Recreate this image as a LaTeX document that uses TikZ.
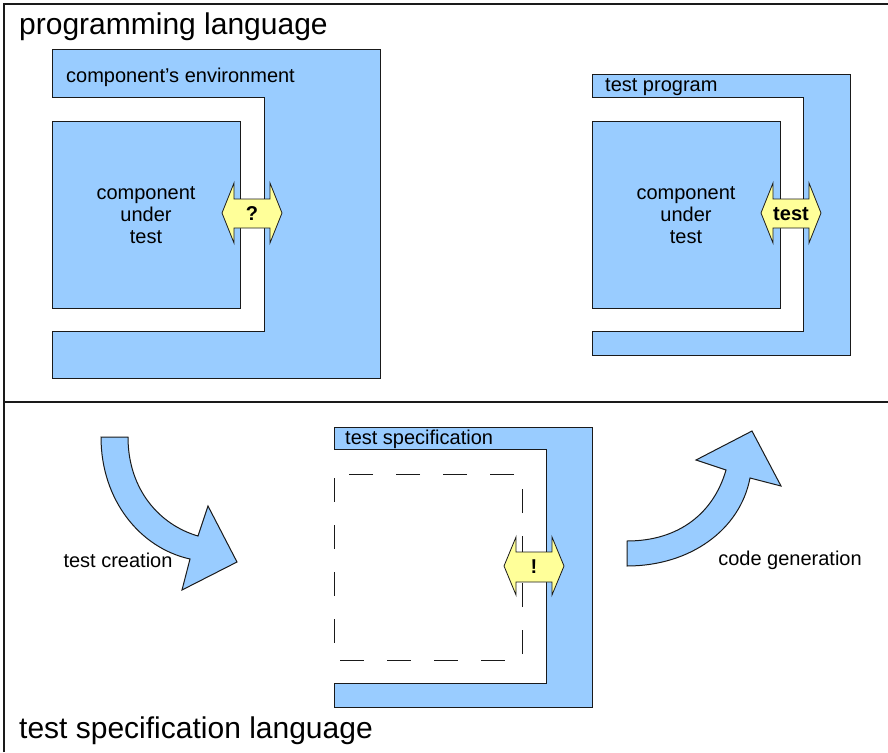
\documentclass[tikz,border=0pt]{standalone}
\usepackage{fontspec}
\setmainfont{Liberation Sans}
\usepackage{xcolor}
\definecolor{boxblue}{HTML}{99CCFF}
\definecolor{arrowyellow}{HTML}{FFFF99}
\definecolor{edge}{HTML}{1A1A1A}
\tikzset{
  part/.style={draw=edge, line width=1pt, fill=boxblue},
  xarrow/.style={draw=edge, line width=0.8pt, fill=arrowyellow},
  label/.style={inner sep=0pt, font=\fontsize{20}{22}\selectfont},
  big/.style={inner sep=0pt, font=\fontsize{30}{34}\selectfont}
}

\begin{document}
\begin{tikzpicture}[x=1pt, y=-1pt]
        \useasboundingbox (0,0) rectangle (888,752);
        % frame
        \draw[line width=1.5pt, edge] (4,752) -- (4,4) -- (888,4);
        \draw[line width=1.5pt, edge] (4,402) -- (888,402);
        \node[big, anchor=west] (pl) at (19,27) {programming language};
        \node[big, anchor=west] (tsl) at (19,731) {test specification language};

        % component and its environment
        \draw[part] (52,50) -- (380,50) -- (380,378) -- (52,378) -- (52,331) -- (264,331) -- (264,97) -- (52,97) -- cycle;
        \node[label, anchor=west] (env) at (66,77) {component's environment};
        \draw[part] (52,121) rectangle (240,308);
        \node[label, align=center] (cut) at (146,215) {component\\under\\test};
        \draw[xarrow, shift={(252,213)}] (-30,0) -- (-18,-30) -- (-18,-14) -- (18,-14) -- (18,-30) -- (30,0) -- (18,30) -- (18,15) -- (-18,15) -- (-18,30) -- cycle;
        \node[label, font=\fontsize{20}{22}\selectfont\bfseries] (q) at (252,214) {?};

        % component and test program
        \draw[part] (592,74) -- (850,74) -- (850,355) -- (592,355) -- (592,331) -- (803,331) -- (803,97) -- (592,97) -- cycle;
        \node[label, anchor=west] (tp) at (605,87) {test program};
        \draw[part] (592,121) rectangle (780,308);
        \node[label, align=center] (cut2) at (686,215) {component\\under\\test};
        \draw[xarrow, shift={(791,213)}] (-30,0) -- (-18,-30) -- (-18,-14) -- (18,-14) -- (18,-30) -- (30,0) -- (18,30) -- (18,15) -- (-18,15) -- (-18,30) -- cycle;
        \node[label, font=\fontsize{20}{22}\selectfont\bfseries] (t) at (791,214) {test};

        % test specification
        \draw[part] (334,427) -- (592,427) -- (592,707) -- (334,707) -- (334,683) -- (546,683) -- (546,449) -- (334,449) -- cycle;
        \node[label, anchor=west] (ts) at (345,439) {test specification};
        \draw[edge, line width=1pt, dash pattern=on 24pt off 23pt, dash phase=-4pt] (334,474) rectangle (522,660);
        \draw[xarrow, shift={(534,566)}] (-30,0) -- (-18,-29) -- (-18,-14) -- (18,-14) -- (18,-29) -- (30,0) -- (18,29) -- (18,16) -- (-18,16) -- (-18,29) -- cycle;
        \node[label, font=\fontsize{20}{22}\selectfont\bfseries] (e) at (534,567) {!};

        % curved arrows
        \draw[part] (101,437) -- (128,437) .. controls (128,490) and (160,525) .. (198,536) -- (208,506) -- (237,562) -- (182,590) -- (190,559) .. controls (140,548) and (101,500) .. (101,437) -- cycle;
        \node[label] (tc) at (118,560) {test creation};
        \draw[part] (627,541) -- (627,566) .. controls (690,566) and (740,530) .. (750,478) -- (781,486) -- (752,431) -- (696,460) -- (726,470) .. controls (714,512) and (680,541) .. (627,541) -- cycle;
        \node[label] (cg) at (790,560) {code generation};
    \end{tikzpicture}
\end{document}
